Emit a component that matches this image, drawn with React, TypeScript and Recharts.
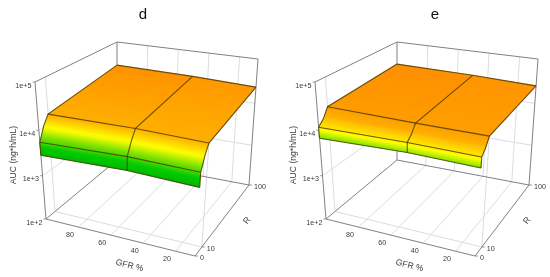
import { ScatterChart, Scatter, XAxis, YAxis } from 'recharts';

const panelW = 270;
const panelH = 277;

// axis ticks
const gfrTicks = [80, 60, 40, 20];
const rTicks = [0, 10, 100];
const rTickLabels = ['0', '10', '100'];
const aucTicks = [100, 1000, 10000, 100000];
const aucTickLabels = ['1e+2', '1e+3', '1e+4', '1e+5'];

// surface grid, rows go from back to front, R=0 appears twice
const gfrGrid = [100, 50, 8];
const rGrid = [100, 10, 5, 0, 0];
const rowHasLine = [true, true, false, true, true];
const aucD = [
  [27700, 26100, 23200],
  [16400, 17300, 16000],
  [10700, 11300, 10800],
  [5450, 6200, 5800],
  [2820, 3150, 2850],
];
const aucE = [
  [29400, 27600, 24800],
  [23500, 22200, 21900],
  [14800, 15300, 14900],
  [11550, 12200, 11800],
  [6650, 7600, 7100],
];

// colour scale of the surface
const colorAuc = [2500, 4500, 7000, 10500, 16500, 28000];
const colorRgb = [
  [0, 176, 0],
  [0, 204, 0],
  [120, 224, 0],
  [255, 255, 0],
  [255, 176, 0],
  [255, 144, 0],
];

// screen position of the box corners [gfr, r, auc]
const corners: Record<string, [number, number]> = {
  '000': [46, 219], '100': [195, 256], '010': [117, 160], '110': [249, 185],
  '001': [35, 82], '101': [205, 109], '011': [117, 42], '111': [258, 59],
};

const lerp = (a: number, b: number, t: number) => a + (b - a) * t;
const gfrFrac = (g: number) => (100 - g) / 92;
const rFrac = (r: number) => (r <= 10 ? (r / 10) * 0.127 : 0.127 + ((r - 10) / 90) * 0.873);
const aucPos = [0, 0.316, 0.648, 1];
const aucFrac = (a: number) => {
  const l = Math.log10(a) - 2;
  const i = Math.min(2, Math.floor(l));
  return lerp(aucPos[i], aucPos[i + 1], l - i);
};

const project = (gfr: number, r: number, auc: number) => {
  const u = gfrFrac(gfr);
  const v = rFrac(r);
  const w = aucFrac(auc);
  const out = [0, 1].map((k) => {
    const b0 = lerp(corners['000'][k], corners['100'][k], u);
    const b1 = lerp(corners['010'][k], corners['110'][k], u);
    const t0 = lerp(corners['001'][k], corners['101'][k], u);
    const t1 = lerp(corners['011'][k], corners['111'][k], u);
    return lerp(lerp(b0, b1, v), lerp(t0, t1, v), w);
  });
  return { x: out[0], y: out[1] };
};

const colorAt = (auc: number) => {
  const l = Math.log10(auc);
  let i = 0;
  while (i < colorAuc.length - 2 && l > Math.log10(colorAuc[i + 1])) i++;
  const t = Math.max(0, Math.min(1, (l - Math.log10(colorAuc[i])) / (Math.log10(colorAuc[i + 1]) - Math.log10(colorAuc[i]))));
  const c = colorRgb[i].map((v, k) => Math.round(lerp(v, colorRgb[i + 1][k], t)));
  return `rgb(${c[0]},${c[1]},${c[2]})`;
};

const seg = (a: number[], b: number[]) => [project(a[0], a[1], a[2]), project(b[0], b[1], b[2])];

const gridLines = [
  ...gfrTicks.map((g) => seg([g, 0, 100], [g, 100, 100])),
  ...gfrTicks.map((g) => seg([g, 100, 100], [g, 100, 100000])),
  seg([100, 10, 100], [8, 10, 100]),
  seg([100, 10, 100], [100, 10, 100000]),
  seg([8, 10, 100], [8, 10, 100000]),
  ...[1000, 10000].map((a) => seg([100, 0, a], [100, 100, a])),
  ...[1000, 10000].map((a) => seg([100, 100, a], [8, 100, a])),
];

const boxLines = [
  seg([100, 0, 100], [100, 100, 100]),
  seg([100, 100, 100], [8, 100, 100]),
  seg([100, 100, 100], [100, 100, 100000]),
  seg([100, 100, 100000], [8, 100, 100000]),
  seg([100, 100, 100000], [100, 0, 100000]),
  seg([8, 100, 100], [8, 100, 100000]),
  seg([100, 0, 100], [100, 0, 100000]),
  seg([100, 0, 100], [8, 0, 100]),
  seg([8, 0, 100], [8, 100, 100]),
];

const tickLines = [
  ...rTicks.map((r) => {
    const p = project(8, r, 100);
    return [p, { x: p.x + 3, y: p.y }];
  }),
  ...aucTicks.map((a) => {
    const p = project(100, 0, a);
    return [p, { x: p.x - 2.5, y: p.y }];
  }),
];

type Label = { x: number; y: number; text: string; size: number; anchor?: string; rotate?: number };

const tickText = (): Label[] => [
  ...gfrTicks.map((g) => {
    const p = project(g, 0, 100);
    return { x: p.x - 8.5, y: p.y + 9.5, text: String(g), size: 7.2 };
  }),
  ...rTicks.map((r, i) => {
    const p = project(8, r, 100);
    return { x: p.x + 5, y: p.y + 4, text: rTickLabels[i], size: 7.2, anchor: 'start' };
  }),
  ...aucTicks.map((a, i) => {
    const p = project(100, 0, a);
    return { x: p.x - 3.5, y: p.y + 5.5, text: aucTickLabels[i], size: 7.2, anchor: 'end' };
  }),
  { x: 16, y: 155, text: 'AUC (ng*h/mL)', size: 8.6, rotate: -90 },
  { x: 129, y: 268, text: 'GFR %', size: 8.6, rotate: 14 },
  { x: 249, y: 222, text: 'R', size: 8.6, rotate: -52 },
];

const LabelShape = (props: any) => {
  const d: Label = props.payload;
  return (
    <text
      x={props.cx}
      y={props.cy}
      fontSize={d.size}
      fontFamily="Liberation Sans, Arial, sans-serif"
      fill={d.size > 10 ? '#111' : '#3a3a3a'}
      textAnchor={d.anchor ?? 'middle'}
      transform={d.rotate ? `rotate(${d.rotate} ${props.cx} ${props.cy})` : undefined}
    >
      {d.text}
    </text>
  );
};

const NoDot = () => <g />;

const makeQuad = (id: string, aucTop: number, aucBottom: number) => (props: any) => {
  const p = props.points;
  const [a, b, c, d] = p;
  const m1 = { x: (a.x + b.x) / 2, y: (a.y + b.y) / 2 };
  const m2 = { x: (c.x + d.x) / 2, y: (c.y + d.y) / 2 };
  const len = Math.hypot(b.x - a.x, b.y - a.y);
  const n = { x: -(b.y - a.y) / len, y: (b.x - a.x) / len };
  const dist = (m2.x - m1.x) * n.x + (m2.y - m1.y) * n.y;
  const offsets = [0, 0.125, 0.25, 0.375, 0.5, 0.625, 0.75, 0.875, 1];
  return (
    <g>
      <defs>
        <linearGradient
          id={id}
          gradientUnits="userSpaceOnUse"
          x1={m1.x}
          y1={m1.y}
          x2={m1.x + n.x * dist}
          y2={m1.y + n.y * dist}
        >
          {offsets.map((o) => (
            <stop
              key={o}
              offset={o}
              stopColor={colorAt(10 ** lerp(Math.log10(aucTop), Math.log10(aucBottom), o))}
            />
          ))}
        </linearGradient>
      </defs>
      <polygon
        points={p.map((q: any) => `${q.x},${q.y}`).join(' ')}
        fill={`url(#${id})`}
        stroke={`url(#${id})`}
        strokeWidth={0.5}
      />
    </g>
  );
};

const Panel = ({ left, title, titleX, auc }: { left: number; title: string; titleX: number; auc: number[][] }) => {
  const name = title;
  const at = (row: number, col: number) => project(gfrGrid[col], rGrid[row], auc[row][col]);

  const quads: { id: string; pts: { x: number; y: number }[]; top: number; bottom: number }[] = [];
  for (let r = 0; r < rGrid.length - 1; r++) {
    for (let c = 0; c < gfrGrid.length - 1; c++) {
      quads.push({
        id: `${name}-q-${r}-${c}`,
        pts: [at(r, c), at(r, c + 1), at(r + 1, c + 1), at(r + 1, c)],
        top: (auc[r][c] + auc[r][c + 1]) / 2,
        bottom: (auc[r + 1][c] + auc[r + 1][c + 1]) / 2,
      });
    }
  }

  const rowLines = rGrid.flatMap((_, r) => (rowHasLine[r] ? [gfrGrid.map((_, c) => at(r, c))] : []));
  const colLines = gfrGrid.map((_, c) => rGrid.map((_, r) => at(r, c)));
  const labels: Label[] = [...tickText(), { x: titleX, y: 19, text: title, size: 15 }];

  return (
    <div style={{ position: 'absolute', left, top: 0, filter: 'blur(0.4px)' }}>
      <ScatterChart width={panelW} height={panelH} margin={{ top: 0, right: 0, bottom: 0, left: 0 }}>
        <XAxis type="number" dataKey="x" domain={[0, panelW]} hide />
        <YAxis type="number" dataKey="y" domain={[0, panelH]} reversed hide />
        {gridLines.map((l, i) => (
          <Scatter key={`g${i}`} data={l} shape={NoDot} line={{ stroke: '#dcdcdc', strokeWidth: 1 }} isAnimationActive={false} />
        ))}
        {boxLines.map((l, i) => (
          <Scatter key={`b${i}`} data={l} shape={NoDot} line={{ stroke: '#808080', strokeWidth: 1 }} isAnimationActive={false} />
        ))}
        {tickLines.map((l, i) => (
          <Scatter key={`t${i}`} data={l} shape={NoDot} line={{ stroke: '#808080', strokeWidth: 0.8 }} isAnimationActive={false} />
        ))}
        {quads.map((q) => (
          <Scatter key={q.id} data={q.pts} shape={NoDot} line={makeQuad(q.id, q.top, q.bottom)} isAnimationActive={false} />
        ))}
        {rowLines.map((l, i) => (
          <Scatter key={`r${i}`} data={l} shape={NoDot} line={{ stroke: '#453600', strokeOpacity: 0.8, strokeWidth: 1.1 }} isAnimationActive={false} />
        ))}
        {colLines.map((l, i) => (
          <Scatter key={`c${i}`} data={l} shape={NoDot} line={{ stroke: '#453600', strokeOpacity: 0.8, strokeWidth: 1.1 }} isAnimationActive={false} />
        ))}
        <Scatter data={labels} shape={LabelShape} isAnimationActive={false} />
      </ScatterChart>
    </div>
  );
};

export default function App() {
  return (
    <div style={{ position: 'fixed', left: 0, top: 0, width: 550, height: 277, overflow: 'hidden', background: '#fff' }}>
      <Panel left={0} title="d" titleX={143} auc={aucD} />
      <Panel left={280} title="e" titleX={155} auc={aucE} />
    </div>
  );
}
